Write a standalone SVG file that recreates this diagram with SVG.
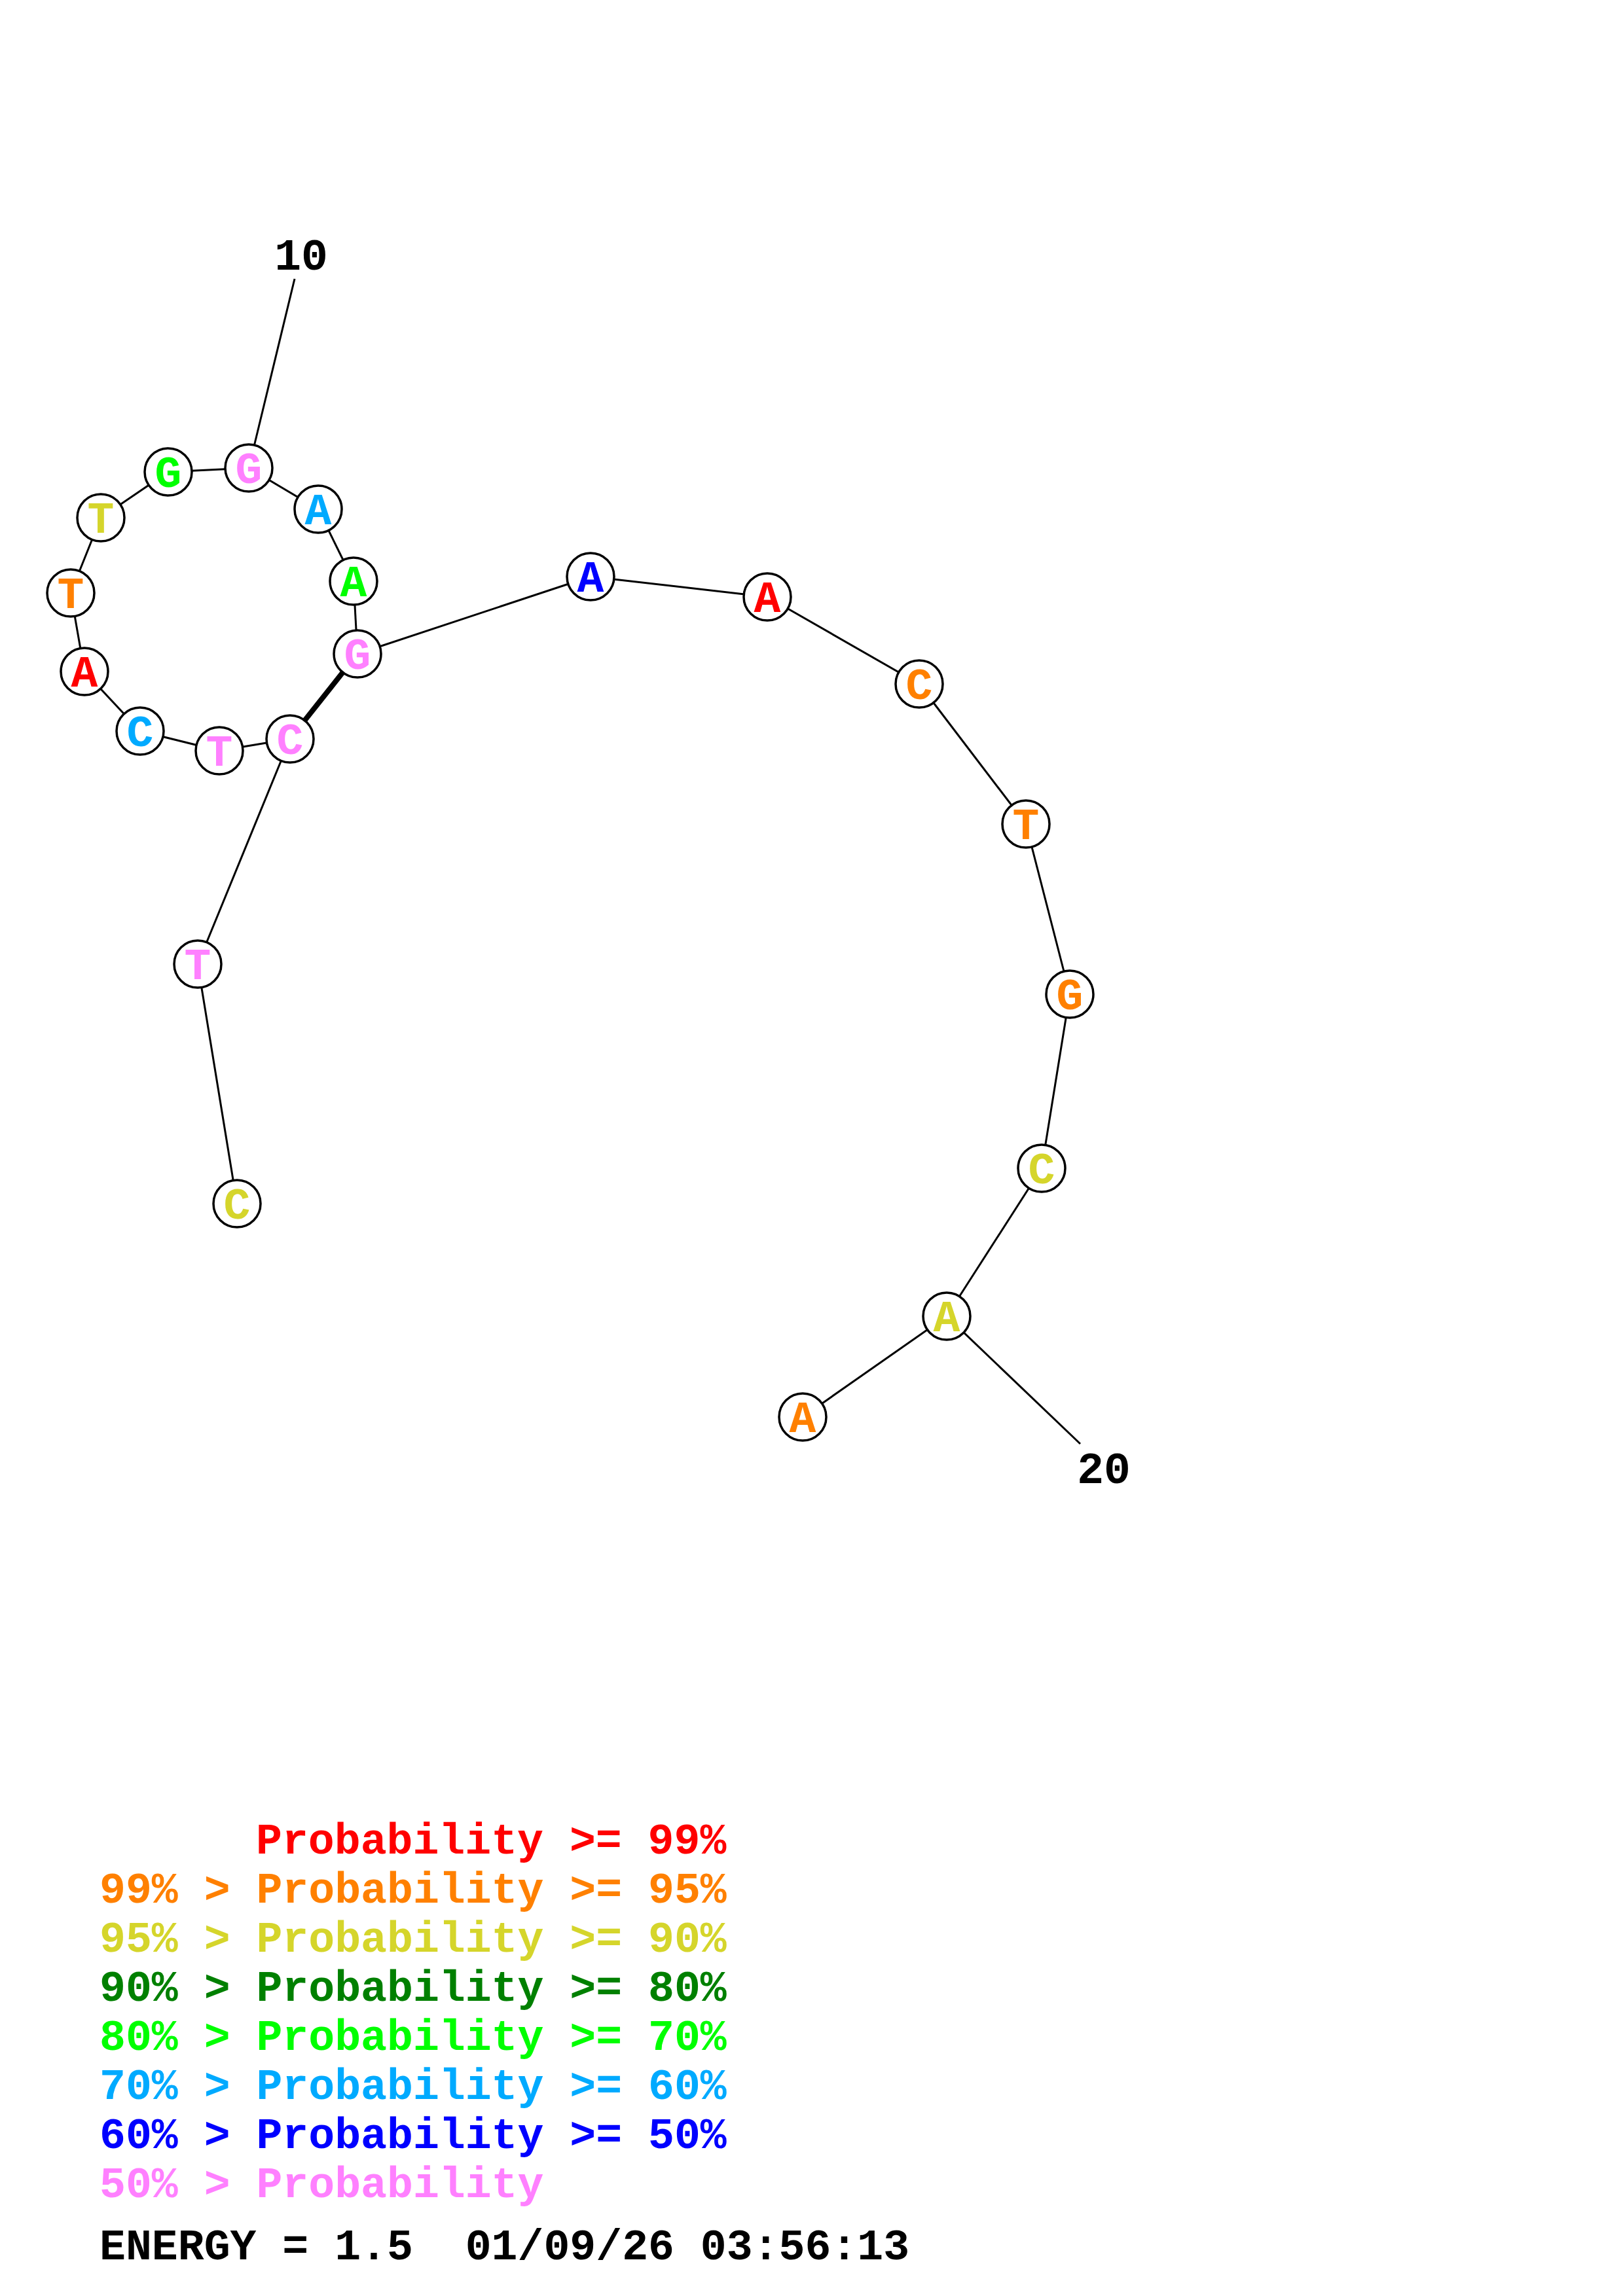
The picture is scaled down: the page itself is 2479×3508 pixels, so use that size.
<svg xmlns="http://www.w3.org/2000/svg" width="2479" height="3508" viewBox="0 0 2479 3508">
<style>
.bg{fill:#ffffff}
.ln{stroke:#000;stroke-width:3;fill:none}
.pair{stroke:#000;stroke-width:8;fill:none}
.nd circle{fill:#fff;stroke:#000;stroke-width:3.5}
.nd text{font-family:"Liberation Mono","DejaVu Sans Mono",monospace;font-weight:bold;font-size:68px;text-anchor:middle}
.num{font-family:"Liberation Mono","DejaVu Sans Mono",monospace;font-weight:bold;font-size:68px;fill:#000;text-anchor:middle}
.lg{font-family:"Liberation Mono","DejaVu Sans Mono",monospace;font-weight:bold;font-size:66.5px;white-space:pre}
.r{fill:#ff0000}.o{fill:#ff8000}.y{fill:#d5d52b}.dg{fill:#008000}.g{fill:#00ff00}.lb{fill:#00aaff}.b{fill:#0000ff}.p{fill:#ff80ff}.k{fill:#000}
</style>
<rect class="bg" x="0" y="0" width="2479" height="3508"/>
<g id="connectors">
<line class="ln" x1="362" y1="1839" x2="302" y2="1473"/>
<line class="ln" x1="302" y1="1473" x2="443" y2="1129"/>
<line class="ln" x1="443" y1="1129" x2="335" y2="1147"/>
<line class="ln" x1="335" y1="1147" x2="214" y2="1117"/>
<line class="ln" x1="214" y1="1117" x2="129" y2="1026"/>
<line class="ln" x1="129" y1="1026" x2="108" y2="906"/>
<line class="ln" x1="108" y1="906" x2="154" y2="791"/>
<line class="ln" x1="154" y1="791" x2="257" y2="721"/>
<line class="ln" x1="257" y1="721" x2="380" y2="715"/>
<line class="ln" x1="380" y1="715" x2="486" y2="778"/>
<line class="ln" x1="486" y1="778" x2="540" y2="888"/>
<line class="ln" x1="540" y1="888" x2="546" y2="999"/>
<line class="ln" x1="546" y1="999" x2="902" y2="881"/>
<line class="ln" x1="902" y1="881" x2="1172" y2="912"/>
<line class="ln" x1="1172" y1="912" x2="1404" y2="1045"/>
<line class="ln" x1="1404" y1="1045" x2="1567" y2="1259"/>
<line class="ln" x1="1567" y1="1259" x2="1634" y2="1519"/>
<line class="ln" x1="1634" y1="1519" x2="1591" y2="1785"/>
<line class="ln" x1="1591" y1="1785" x2="1446" y2="2011"/>
<line class="ln" x1="1446" y1="2011" x2="1226" y2="2165"/>
<line class="pair" x1="443" y1="1129" x2="546" y2="999"/>
<line class="ln" x1="450" y1="426" x2="380" y2="715"/>
<line class="ln" x1="1650" y1="2206" x2="1446" y2="2011"/>
</g>
<g id="n1" class="nd"><circle cx="362" cy="1839" r="36"/><text class="y" x="362" y="1862">C</text></g>
<g id="n2" class="nd"><circle cx="302" cy="1473" r="36"/><text class="p" x="302" y="1496">T</text></g>
<g id="n3" class="nd"><circle cx="443" cy="1129" r="36"/><text class="p" x="443" y="1152">C</text></g>
<g id="n4" class="nd"><circle cx="335" cy="1147" r="36"/><text class="p" x="335" y="1170">T</text></g>
<g id="n5" class="nd"><circle cx="214" cy="1117" r="36"/><text class="lb" x="214" y="1140">C</text></g>
<g id="n6" class="nd"><circle cx="129" cy="1026" r="36"/><text class="r" x="129" y="1049">A</text></g>
<g id="n7" class="nd"><circle cx="108" cy="906" r="36"/><text class="o" x="108" y="929">T</text></g>
<g id="n8" class="nd"><circle cx="154" cy="791" r="36"/><text class="y" x="154" y="814">T</text></g>
<g id="n9" class="nd"><circle cx="257" cy="721" r="36"/><text class="g" x="257" y="744">G</text></g>
<g id="n10" class="nd"><circle cx="380" cy="715" r="36"/><text class="p" x="380" y="738">G</text></g>
<g id="n11" class="nd"><circle cx="486" cy="778" r="36"/><text class="lb" x="486" y="801">A</text></g>
<g id="n12" class="nd"><circle cx="540" cy="888" r="36"/><text class="g" x="540" y="911">A</text></g>
<g id="n13" class="nd"><circle cx="546" cy="999" r="36"/><text class="p" x="546" y="1022">G</text></g>
<g id="n14" class="nd"><circle cx="902" cy="881" r="36"/><text class="b" x="902" y="904">A</text></g>
<g id="n15" class="nd"><circle cx="1172" cy="912" r="36"/><text class="r" x="1172" y="935">A</text></g>
<g id="n16" class="nd"><circle cx="1404" cy="1045" r="36"/><text class="o" x="1404" y="1068">C</text></g>
<g id="n17" class="nd"><circle cx="1567" cy="1259" r="36"/><text class="o" x="1567" y="1282">T</text></g>
<g id="n18" class="nd"><circle cx="1634" cy="1519" r="36"/><text class="o" x="1634" y="1542">G</text></g>
<g id="n19" class="nd"><circle cx="1591" cy="1785" r="36"/><text class="y" x="1591" y="1808">C</text></g>
<g id="n20" class="nd"><circle cx="1446" cy="2011" r="36"/><text class="y" x="1446" y="2034">A</text></g>
<g id="n21" class="nd"><circle cx="1226" cy="2165" r="36"/><text class="o" x="1226" y="2188">A</text></g>
<g id="labels">
<text class="num" x="460" y="412">10</text>
<text class="num" x="1686" y="2266">20</text>
</g>
<g id="legend" class="lg">
<text class="r" x="391" y="2832">Probability &gt;= 99%</text>
<text class="o" x="152" y="2907">99% &gt; Probability &gt;= 95%</text>
<text class="y" x="152" y="2982">95% &gt; Probability &gt;= 90%</text>
<text class="dg" x="152" y="3057">90% &gt; Probability &gt;= 80%</text>
<text class="g" x="152" y="3132">80% &gt; Probability &gt;= 70%</text>
<text class="lb" x="152" y="3207">70% &gt; Probability &gt;= 60%</text>
<text class="b" x="152" y="3282">60% &gt; Probability &gt;= 50%</text>
<text class="p" x="152" y="3357">50% &gt; Probability</text>
<text class="k" x="152" y="3452">ENERGY = 1.5&#160; 01/09/26 03:56:13</text>
</g>
</svg>
